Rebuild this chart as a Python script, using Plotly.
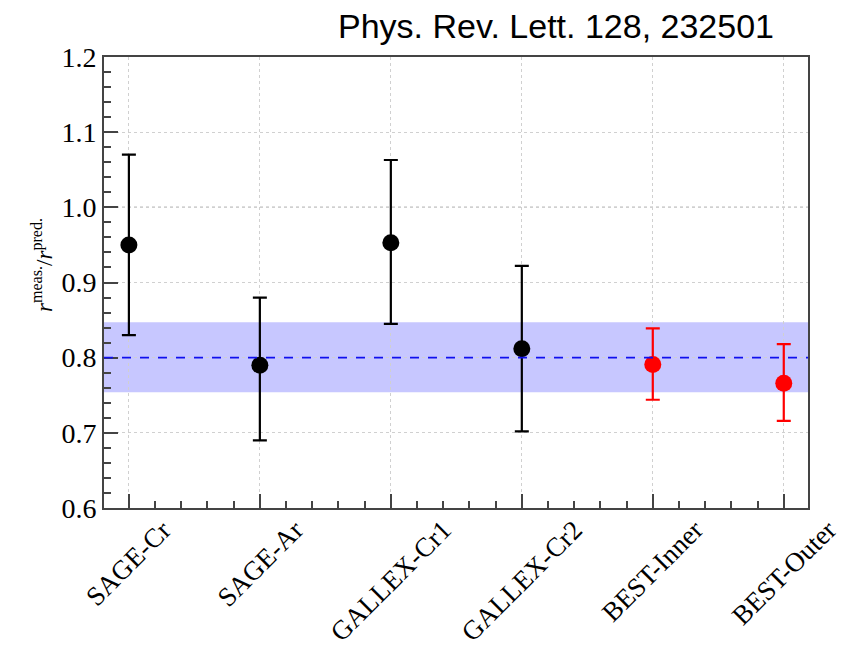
import plotly.graph_objects as go

# Measured / predicted capture-rate ratios for the Ga source experiments
experiments = ["SAGE-Cr", "SAGE-Ar", "GALLEX-Cr1", "GALLEX-Cr2", "BEST-Inner", "BEST-Outer"]
ratio = [0.950, 0.790, 0.953, 0.812, 0.791, 0.766]
err_up = [0.120, 0.090, 0.110, 0.110, 0.048, 0.052]
err_down = [0.120, 0.100, 0.108, 0.110, 0.047, 0.050]
point_colors = ["black", "black", "black", "black", "red", "red"]

# Combined average with its 1-sigma band
avg_ratio = 0.80
avg_low = 0.754
avg_high = 0.847

y_ticks = [0.6, 0.7, 0.8, 0.9, 1.0, 1.1, 1.2]

serif = "Liberation Serif, Times New Roman, serif"
frame_color = "#444444"

positions = list(range(len(experiments)))
x_range = [-0.19, 5.185]
y_range = [y_ticks[0], y_ticks[-1]]

fig = go.Figure()

# empty trace so the secondary (subdivision-tick) axes get drawn
fig.add_trace(go.Scatter(x=[None], y=[None], xaxis="x2", yaxis="y2",
                         mode="markers", showlegend=False, hoverinfo="skip"))

for color in ["black", "red"]:
    idx = [i for i, c in enumerate(point_colors) if c == color]
    fig.add_trace(go.Scatter(
        x=[positions[i] for i in idx],
        y=[ratio[i] for i in idx],
        mode="markers",
        marker=dict(size=17, color=color),
        error_y=dict(
            type="data",
            symmetric=False,
            array=[err_up[i] for i in idx],
            arrayminus=[err_down[i] for i in idx],
            color=color,
            thickness=2.2,
            width=7,
        ),
        showlegend=False,
        hoverinfo="skip",
    ))

shapes = [
    dict(type="rect", xref="paper", yref="y", x0=0, x1=1, y0=avg_low, y1=avg_high,
         fillcolor="rgb(199,199,255)", line=dict(width=0), layer="between"),
    dict(type="line", xref="paper", yref="y", x0=0, x1=1, y0=avg_ratio, y1=avg_ratio,
         line=dict(color="#1010ee", width=1.6, dash="dash"), layer="above"),
    dict(type="line", xref="paper", yref="y", x0=0, x1=1, y0=1.0, y1=1.0,
         line=dict(color="#777777", width=1.2, dash="dot"), layer="between"),
]

annotations = [
    dict(text="Phys. Rev. Lett. 128, 232501", xref="paper", yref="paper",
         x=(776 - 104) / 704, y=1 + (57 - 26) / 451, xanchor="right", yanchor="middle",
         showarrow=False, font=dict(family="Liberation Sans, Arial, sans-serif", size=34, color="black")),
    dict(text="<i>r</i><sup>meas.</sup>/<i>r</i><sup>pred.</sup>", xref="paper", yref="paper",
         x=(42 - 104) / 704, y=(508 - 265) / 451, xanchor="center", yanchor="middle",
         textangle=-90, showarrow=False, font=dict(family=serif, size=23, color="black")),
]

for pos, name in zip(positions, experiments):
    annotations.append(dict(
        text=name, x=pos, xref="x", y=0, yref="paper", xanchor="center", yanchor="top",
        yshift=-4, textangle=-45, showarrow=False,
        font=dict(family=serif, size=27, color="black"),
    ))

fig.update_layout(
    width=842, height=648,
    margin=dict(l=104, r=34, t=57, b=140),
    paper_bgcolor="white", plot_bgcolor="white",
    shapes=shapes, annotations=annotations,
    xaxis=dict(
        range=x_range, tickmode="linear", tick0=positions[0], dtick=1,
        showticklabels=False,
        showline=True, mirror=True, linecolor=frame_color, linewidth=2,
        ticks="inside", ticklen=14, tickwidth=2, tickcolor=frame_color,
        showgrid=True, gridcolor="#d0d0d0", griddash="dot", gridwidth=1,
        zeroline=False,
    ),
    yaxis=dict(
        range=y_range, tickmode="linear", tick0=y_ticks[0],
        dtick=0.1, tickformat=".1f",
        showline=True, mirror=True, linecolor=frame_color, linewidth=2,
        ticks="inside", ticklen=14, tickwidth=2, tickcolor=frame_color,
        tickfont=dict(family=serif, size=28, color="black"),
        showgrid=True, gridcolor="#d0d0d0", griddash="dot", gridwidth=1,
        zeroline=False,
    ),
    # secondary axes carrying the short subdivision ticks
    xaxis2=dict(
        overlaying="x", anchor="y2", side="bottom", range=x_range,
        tickmode="linear", tick0=positions[0], dtick=0.2,
        ticks="inside", ticklen=7, tickwidth=2, tickcolor=frame_color,
        showticklabels=False, showgrid=False, zeroline=False, showline=False,
    ),
    yaxis2=dict(
        overlaying="y", anchor="x2", side="left", range=y_range,
        tickmode="linear", tick0=y_ticks[0], dtick=0.02,
        ticks="inside", ticklen=7, tickwidth=2, tickcolor=frame_color,
        showticklabels=False, showgrid=False, zeroline=False, showline=False,
    ),
)

fig.write_html("out.html")
